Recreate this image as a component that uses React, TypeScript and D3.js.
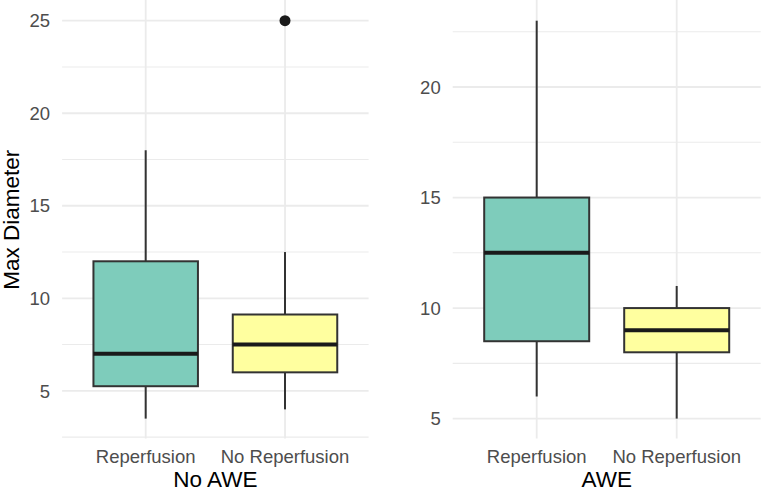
import React from "react";
import * as d3 from "d3";

// Groups along the x axis of each panel
const groups = ["Reperfusion", "No Reperfusion"];
const panelTitles = ["No AWE", "AWE"];

// Five-number summaries per panel: [lower whisker, Q1, median, Q3, upper whisker]
const noAweStats = [
  [3.5, 5.25, 7, 12, 18],
  [4, 6, 7.5, 9.125, 12.5],
];
const aweStats = [
  [6, 8.5, 12.5, 15, 23],
  [5, 8, 9, 10, 11],
];

// Outlying points: [group index, value]
const noAweOutliers: [number, number][] = [[1, 25]];
const aweOutliers: [number, number][] = [];

const yTicksNoAwe = [5, 10, 15, 20, 25];
const yTicksAwe = [5, 10, 15, 20];

const fills = ["#7ECCBB", "#FFFF9F"];

const W = 762;
const H = 492;
const FONT = "'Liberation Sans', Arial, Helvetica, sans-serif";

interface PanelProps {
  stats: number[][];
  outliers: [number, number][];
  ticks: number[];
  title: string;
  x0: number;
  x1: number;
  showYTitle: boolean;
}

function Panel({ stats, outliers, ticks, title, x0, x1, showYTitle }: PanelProps) {
  const top = 0.8;
  const bottom = 438.5;
  const all = stats.flat().concat(outliers.map((o) => o[1]));
  const lo = d3.min(all) as number;
  const hi = d3.max(all) as number;
  const pad = (hi - lo) * 0.05;
  const y = d3.scaleLinear().domain([lo - pad, hi + pad]).range([bottom, top]);
  const x = d3.scalePoint<string>().domain(groups).range([x0, x1]).padding(0.6);
  const step = x.step();
  const bw = step * 0.75;

  const majors = ticks;
  const minors = d3.range(Math.floor(y.domain()[0] / 2.5) * 2.5, y.domain()[1], 2.5)
    .filter((v) => v > y.domain()[0] && v < y.domain()[1] && v % 5 !== 0);

  const cx = (x0 + x1) / 2;
  const cy = (top + bottom) / 2;

  return (
    <g>
      {/* grid */}
      {minors.map((v) => (
        <line key={"mi" + v} x1={x0} x2={x1} y1={y(v)} y2={y(v)} stroke="#EBEBEB" strokeWidth={1.1} />
      ))}
      {majors.map((v) => (
        <line key={"ma" + v} x1={x0} x2={x1} y1={y(v)} y2={y(v)} stroke="#EBEBEB" strokeWidth={1.8} />
      ))}
      {groups.map((g) => (
        <line key={"vx" + g} x1={x(g)} x2={x(g)} y1={top - 1} y2={bottom} stroke="#EBEBEB" strokeWidth={1.8} />
      ))}

      {/* boxes */}
      {stats.map((s, i) => {
        const c = x(groups[i]) as number;
        const [wl, q1, med, q3, wh] = s;
        return (
          <g key={"b" + i}>
            <line x1={c} x2={c} y1={y(wh)} y2={y(q3)} stroke="#333333" strokeWidth={2} />
            <line x1={c} x2={c} y1={y(q1)} y2={y(wl)} stroke="#333333" strokeWidth={2} />
            <rect
              x={c - bw / 2}
              y={y(q3)}
              width={bw}
              height={y(q1) - y(q3)}
              fill={fills[i]}
              stroke="#333333"
              strokeWidth={2}
            />
            <line x1={c - bw / 2} x2={c + bw / 2} y1={y(med)} y2={y(med)} stroke="#1A1A1A" strokeWidth={4} />
          </g>
        );
      })}
      {outliers.map(([gi, v], k) => (
        <circle key={"o" + k} cx={x(groups[gi])} cy={y(v)} r={5.5} fill="#1A1A1A" />
      ))}

      {/* y tick labels */}
      {majors.map((v) => (
        <text
          key={"yt" + v}
          x={x0 - 12}
          y={y(v)}
          dy="0.36em"
          textAnchor="end"
          fontFamily={FONT}
          fontSize={18.5}
          fill="#4D4D4D"
        >
          {v}
        </text>
      ))}

      {/* x tick labels */}
      {groups.map((g) => (
        <text key={"xt" + g} x={x(g)} y={463} textAnchor="middle" fontFamily={FONT} fontSize={18.5} fill="#4D4D4D">
          {g}
        </text>
      ))}

      {/* axis titles */}
      <text x={cx} y={487} textAnchor="middle" fontFamily={FONT} fontSize={22.5} fill="#000000">
        {title}
      </text>
      {showYTitle && (
        <text
          transform={`translate(19,${cy}) rotate(-90)`}
          textAnchor="middle"
          fontFamily={FONT}
          fontSize={22.5}
          fill="#000000"
        >
          Max Diameter
        </text>
      )}
    </g>
  );
}

export default function App() {
  return (
    <svg width={W} height={H} style={{ position: "absolute", left: 0, top: 0, background: "#FFFFFF" }}>
      <rect x={0} y={0} width={W} height={H} fill="#FFFFFF" />
      <Panel
        stats={noAweStats}
        outliers={noAweOutliers}
        ticks={yTicksNoAwe}
        title={panelTitles[0]}
        x0={62.1}
        x1={368.6}
        showYTitle={true}
      />
      <Panel
        stats={aweStats}
        outliers={aweOutliers}
        ticks={yTicksAwe}
        title={panelTitles[1]}
        x0={452.7}
        x1={760.7}
        showYTitle={false}
      />
    </svg>
  );
}
